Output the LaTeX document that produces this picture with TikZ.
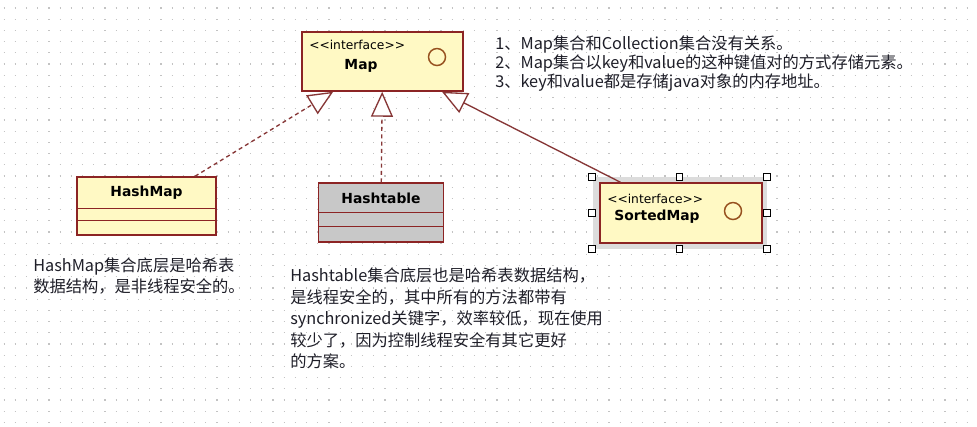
\documentclass[tikz,border=0pt]{standalone}
\usepackage{fontspec}
\setmainfont{DejaVu Sans}
\newfontfamily\cjk{Noto Sans CJK SC}
\usetikzlibrary{arrows.meta, positioning, calc}

\definecolor{umlfill}{RGB}{255,249,196}
\definecolor{umlline}{RGB}{140,36,36}
\definecolor{linkcol}{RGB}{135,55,55}
\definecolor{iconcol}{RGB}{150,80,30}
\definecolor{notetext}{RGB}{30,30,40}
\definecolor{tablefill}{RGB}{200,200,200}
\definecolor{dotcol}{RGB}{195,195,195}
\definecolor{selgray}{RGB}{220,220,220}

\newcommand\stereo{<\kern0pt<interface>\kern0pt>}

\begin{document}
\begin{tikzpicture}[
    x=0.75pt, y=-0.75pt,
    umlbox/.style={rectangle, draw=umlline, line width=1.1pt, fill=umlfill, inner sep=0pt},
    iface/.style={circle, draw=iconcol, line width=1.1pt, minimum size=12.75pt, inner sep=0pt},
    stereotxt/.style={font=\fontsize{9.2}{11}\selectfont, inner sep=0pt, anchor=west},
    nametxt/.style={font=\fontsize{10.4}{12}\selectfont\bfseries, inner sep=0pt},
    notetxt/.style={text=notetext, align=left, inner sep=0pt, anchor=north west},
    realize/.style={-{Triangle[fill=white, length=18.75pt, width=16.5pt]}, line width=1pt,
                    draw=linkcol, dash pattern=on 3pt off 2.5pt},
    extend/.style={-{Triangle[fill=white, length=18.75pt, width=16.5pt]}, line width=1pt, draw=linkcol},
    handle/.style={rectangle, draw=black, fill=white, line width=0.8pt, minimum size=5pt, inner sep=0pt}
]
\useasboundingbox (0,0) rectangle (977,426);
\fill[white] (0,0) rectangle (977,426);
% dotted background grid
\foreach \yy in {8,19.2,...,426}
  \draw[dotcol, line width=1pt, dash pattern=on 0.9pt off 7.5pt] (3.5,\yy) -- (977,\yy);

% Map interface
\node[umlbox, minimum width=120.75pt, minimum height=44.25pt] (map) at (382.5,61.5) {};
\node[stereotxt] (mapstereo) at (309,45) {\stereo};
\node[nametxt] (mapname) at (361,66) {Map};
\node[iface] (mapicon) at (437,57) {};

% HashMap class
\node[umlbox, minimum width=104.25pt, minimum height=43.5pt] (hashmap) at (146.5,206) {};
\node[nametxt] (hashmapname) at (146.5,193) {HashMap};
\draw[umlline, line width=1.1pt] ([yshift=-24pt]hashmap.north west) -- ([yshift=-24pt]hashmap.north east);
\draw[umlline, line width=1.1pt] ([yshift=-33pt]hashmap.north west) -- ([yshift=-33pt]hashmap.north east);

% Hashtable class
\node[umlbox, fill=tablefill, minimum width=93.75pt, minimum height=44.25pt] (hashtable) at (381,212.5) {};
\node[nametxt] (hashtablename) at (381,198) {Hashtable};
\draw[umlline, line width=1.1pt] ([yshift=-22.5pt]hashtable.north west) -- ([yshift=-22.5pt]hashtable.north east);
\draw[umlline, line width=1.1pt] ([yshift=-33pt]hashtable.north west) -- ([yshift=-33pt]hashtable.north east);

% SortedMap interface, selected
\node[rectangle, fill=selgray, minimum width=130.5pt, minimum height=54pt, inner sep=0pt] (selframe) at (679.5,213) {};
\node[umlbox, minimum width=121.5pt, minimum height=45pt] (sortedmap) at (681,213) {};
\node[stereotxt] (sortedstereo) at (607,199) {\stereo};
\node[nametxt, anchor=west] (sortedname) at (614,217) {SortedMap};
\node[iface] (sortedicon) at (733,211) {};
\foreach \a [count=\i] in {north west, north, north east, west, east, south west, south, south east}
  \node[handle] (hnd\i) at (selframe.\a) {};

% inheritance
\draw[realize] (hashmap) -- (map);
\draw[realize] (hashtable) -- (map);
\draw[extend] (sortedmap) -- (map);

% notes
\node[notetxt, font={\cjk\fontsize{12.2}{13.9}\selectfont}] (mapnote) at (495,36)
  {1、Map集合和Collection集合没有关系。\\
   2、Map集合以key和value的这种键值对的方式存储元素。\\
   3、key和value都是存储java对象的内存地址。};
\node[notetxt, font={\cjk\fontsize{12.2}{15.75}\selectfont}] (hashmapnote) at (33,258)
  {HashMap集合底层是哈希表\\
   数据结构，是非线程安全的。};
\node[notetxt, font={\cjk\fontsize{12.2}{16.1}\selectfont}] (hashtablenote) at (290,268)
  {Hashtable集合底层也是哈希表数据结构，\\
   是线程安全的，其中所有的方法都带有\\
   synchronized关键字，效率较低，现在使用\\
   较少了，因为控制线程安全有其它更好\\
   的方案。};
\end{tikzpicture}
\end{document}
